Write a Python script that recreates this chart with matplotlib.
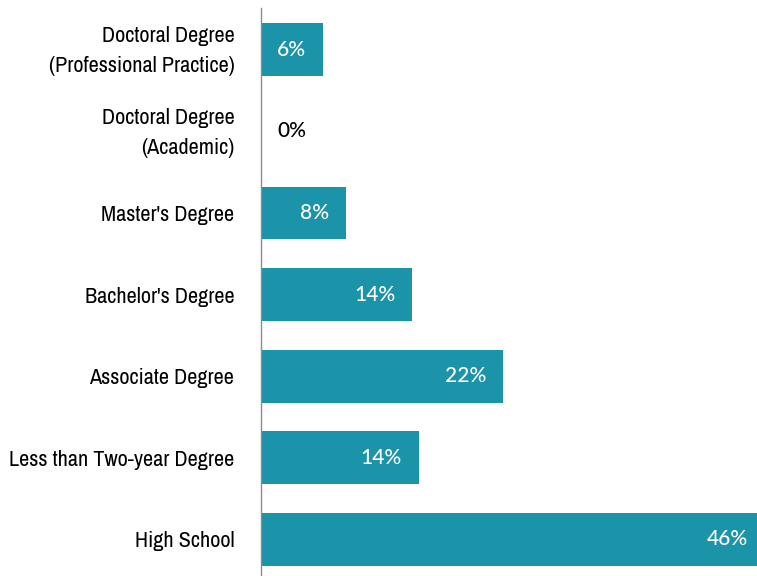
import matplotlib.pyplot as plt
from matplotlib.transforms import ScaledTranslation

categories = [
    "Doctoral Degree\n(Professional Practice)",
    "Doctoral Degree\n(Academic)",
    "Master's Degree",
    "Bachelor's Degree",
    "Associate Degree",
    "Less than Two-year Degree",
    "High School",
]
shares = [5.6, 0.0, 7.7, 13.8, 22.1, 14.4, 46.0]

bar_color = "#1b93a8"
label_font = ["Archivo Narrow", "DejaVu Sans"]
value_font = ["Lato", "DejaVu Sans"]

fig = plt.figure(figsize=(7.57, 5.76), dpi=100)
ax = fig.add_axes([0.3454, -0.0087, 0.6546, 0.9948])

y = list(range(len(categories)))
ax.barh(y, shares, height=0.65, color=bar_color)
ax.set_ylim(len(categories) - 0.5 + 0.015, -0.5 - 0.015)
ax.set_xlim(0, 45.3)

ax.set_yticks(y)
ax.set_yticklabels(categories, fontfamily=label_font, fontsize=16,
                   linespacing=1.6, ha="right")
ax.tick_params(axis="y", length=0, pad=19.5)
ax.set_xticks([])

# nudge the two-line labels up a little so they sit centred on their bars
lift = ScaledTranslation(0, 4 / 72, fig.dpi_scale_trans)
for lbl in ax.get_yticklabels():
    if "\n" in lbl.get_text():
        lbl.set_transform(lbl.get_transform() + lift)

for s in ["top", "right", "bottom"]:
    ax.spines[s].set_visible(False)
ax.spines["left"].set_color("#8c8c8c")
ax.spines["left"].set_linewidth(1.0)

# value labels: inside the bar end in white, or just right of the axis when empty
for yi, v in zip(y, shares):
    txt = f"{v:.0f}%"
    if v >= 3:
        ax.annotate(txt, (v, yi), xytext=(-12.2, 0), textcoords="offset points",
                    ha="right", va="center", color="white", fontweight="medium",
                    fontfamily=value_font, fontsize=15, annotation_clip=False)
    else:
        ax.annotate(txt, (v, yi), xytext=(11.6, 0), textcoords="offset points",
                    ha="left", va="center", color="black", fontweight="medium",
                    fontfamily=value_font, fontsize=15)

fig.savefig("out.png", dpi=100)
